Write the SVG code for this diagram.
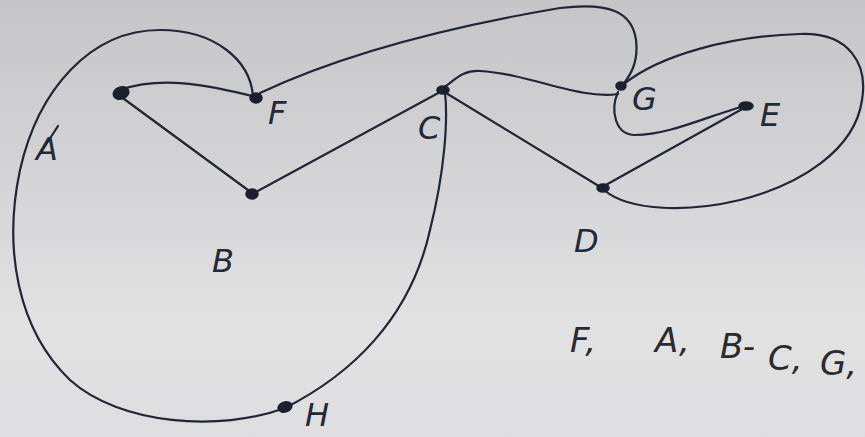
<svg xmlns="http://www.w3.org/2000/svg" width="865" height="437" viewBox="0 0 865 437">
<defs>
<linearGradient id="bg" x1="0" y1="0" x2="0" y2="1">
<stop offset="0" stop-color="#c6c6c9"/>
<stop offset="0.45" stop-color="#d6d6d8"/>
<stop offset="0.75" stop-color="#e2e2e3"/>
<stop offset="1" stop-color="#dedee0"/>
</linearGradient>
<style>
.e{fill:none;stroke:#1e2638;stroke-width:2.2;stroke-linecap:round;stroke-linejoin:round}
.n{fill:#1a2030;stroke:#1a2030;stroke-width:1.5}
.l{font-family:"DejaVu Sans","Liberation Sans",sans-serif;font-size:32px;fill:#222a3a;font-style:oblique;font-weight:300}
.s{font-family:"DejaVu Sans","Liberation Sans",sans-serif;font-size:34px;fill:#2a2a30;font-style:oblique;font-weight:300}
</style>
</defs>
<rect width="865" height="437" fill="url(#bg)"/>
<g id="edges">
<path class="e" d="M120,90 C160,76 205,84 256,97"/>
<path class="e" d="M120,96 L252,193"/>
<path class="e" d="M254,193 L442,91"/>
<path class="e" d="M253,96 C250,60 215,30 160,30 C90,30 38,90 20,170 C3,250 18,330 70,380 C120,425 220,432 285,408"/>
<path class="e" d="M285,408 C350,375 410,320 430,230 C445,170 448,120 445,92"/>
<path class="e" d="M260,93 C330,60 430,30 560,8 C610,2 632,12 636,40 C639,65 628,78 622,86"/>
<path class="e" d="M443,88 C455,80 462,70 480,71 C530,74 580,100 618,94"/>
<path class="e" d="M618,92 C610,110 615,135 635,135 C670,135 710,115 745,106"/>
<path class="e" d="M624,84 C660,55 730,36 800,34 C850,32 868,65 862,100 C855,150 800,185 740,200 C690,212 630,212 604,190"/>
<path class="e" d="M446,93 L602,188"/>
<path class="e" d="M604,186 L744,108"/>
</g>
<g id="node-A"><ellipse class="n" cx="121" cy="93" rx="8" ry="6" transform="rotate(-20 121 93)"/><text class="l" x="36" y="160">A</text><path class="e" d="M40,154 L58,126" stroke-width="1.5"/></g>
<g id="node-F"><ellipse class="n" cx="256" cy="98" rx="6" ry="5"/><text class="l" x="268" y="124">F</text></g>
<g id="node-B"><ellipse class="n" cx="252" cy="194" rx="6" ry="5"/><text class="l" x="212" y="272">B</text></g>
<g id="node-C"><ellipse class="n" cx="443" cy="90" rx="6" ry="4"/><text class="l" x="418" y="139">C</text></g>
<g id="node-G"><ellipse class="n" cx="621" cy="86" rx="5" ry="4"/><text class="l" x="632" y="110">G</text></g>
<g id="node-E"><ellipse class="n" cx="746" cy="106" rx="7" ry="4"/><text class="l" x="760" y="126">E</text></g>
<g id="node-D"><ellipse class="n" cx="603" cy="188" rx="6" ry="4"/><text class="l" x="574" y="252">D</text></g>
<g id="node-H"><ellipse class="n" cx="285" cy="407" rx="7" ry="5" transform="rotate(-15 285 407)"/><text class="l" x="305" y="426" font-size="30">H</text></g>
<g id="order">
<text class="s" x="570" y="352">F,</text>
<text class="s" x="655" y="352">A,</text>
<text class="s" x="720" y="358">B-</text>
<text class="s" x="768" y="370">C,</text>
<text class="s" x="820" y="375">G,</text>
</g>
</svg>
